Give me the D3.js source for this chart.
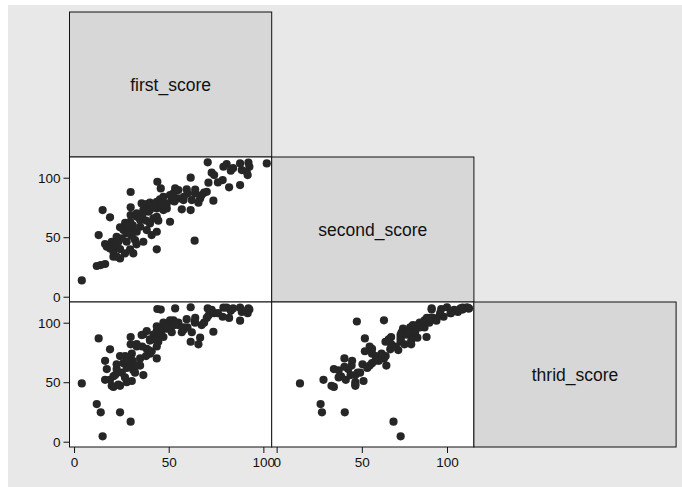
<!DOCTYPE html>
<html>
<head>
<meta charset="utf-8">
<script src="https://cdn.jsdelivr.net/npm/d3@7"></script>
<style>
  body { margin: 0; background: #fff; }
  svg { display: block; font-family: "Liberation Sans", Arial, sans-serif; }
  .tick text { fill: #111; }
  .tick line { stroke: #111; }
</style>
</head>
<body>
<div id="matrix"></div>
<script>
// variable names as shown on the diagonal
var varNames = ["first_score", "second_score", "thrid_score"];

var first_score = [4.1, 12.0, 14.1, 16.4, 20.8, 24.3, 20.8, 31.3, 17.3, 16.4,
  19.0, 21.7, 24.3, 27.8, 29.6, 43.7, 63.7, 24.3, 26.1, 30.5,
  33.1, 38.4, 43.7, 13.0, 22.5, 25.2, 30.5, 36.6, 32.2, 41.0,
  19.0, 29.9, 33.1, 34.9, 29.6, 43.7, 44.5, 50.7, 41.9, 15.1,
  29.9, 36.6, 39.3, 43.7, 47.2, 49.0, 56.9, 61.6, 35.7, 38.4,
  40.1, 43.7, 45.4, 47.2, 50.7, 52.5, 55.1, 57.8, 62.2, 66.6,
  65.7, 73.6, 53.4, 55.1, 59.5, 59.9, 68.7, 70.1, 67.4, 45.8,
  29.9, 81.9, 87.7, 61.6, 71.0, 78.5, 44.0, 72.7, 74.0, 70.6,
  78.9, 80.6, 82.8, 87.7, 92.1, 92.6, 88.6, 91.2, 91.7, 101.8,
  27.8, 23.4, 19.9, 26.9, 22.5, 34.9, 40.1, 49.0, 51.6, 63.9,
  33.1, 40.1, 31.0, 27.0, 36.0, 42.0, 46.0, 53.0, 58.0, 64.0,
  76.0, 84.0, 38.0, 33.0, 28.0];
var second_score = [13.7, 25.8, 26.6, 27.5, 33.6, 32.2, 37.8, 36.4, 42.0, 44.3,
  40.6, 43.4, 40.0, 46.2, 39.8, 39.8, 47.1, 58.3, 56.0, 56.0,
  54.6, 56.0, 54.6, 51.8, 50.4, 49.0, 51.0, 46.2, 47.6, 51.8,
  66.7, 68.6, 67.2, 64.4, 63.0, 67.2, 63.9, 63.0, 65.8, 72.8,
  75.1, 72.8, 71.4, 74.2, 72.8, 74.2, 73.4, 72.8, 78.4, 77.9,
  79.0, 79.8, 81.8, 84.0, 85.4, 86.8, 82.6, 81.2, 81.2, 82.6,
  79.0, 80.7, 91.0, 89.6, 90.2, 86.8, 87.4, 88.2, 85.4, 91.0,
  88.0, 91.9, 93.8, 100.0, 95.8, 98.0, 96.6, 104.2, 102.2, 112.9,
  109.2, 111.5, 105.9, 112.0, 112.6, 109.2, 106.4, 105.0, 102.2, 112.0,
  53.2, 46.2, 46.2, 36.4, 33.6, 58.8, 61.6, 78.4, 81.2, 86.8,
  70.0, 72.8, 60.0, 62.0, 68.0, 76.0, 77.0, 80.0, 84.0, 90.0,
  96.0, 108.0, 64.0, 44.0, 58.0];
var thrid_score = [49, 31.6, 24.7, 52, 46, 47, 55, 60, 61, 68,
  52, 56, 24.7, 50, 63, 70, 101, 72, 66, 74,
  64, 78, 80, 86.8, 65, 58, 51, 56, 58, 76,
  77.6, 16.8, 82, 64, 70, 88, 84, 102, 86, 4.5,
  81.8, 90, 77, 93, 88, 95, 92, 84, 89.6, 93,
  85, 97, 95, 100, 97, 102, 98, 94, 92, 87.4,
  81.8, 92.4, 112, 100, 103, 96, 100, 104, 98, 111,
  88, 104, 101.7, 113, 106, 105, 111.5, 110.7, 108, 112,
  112.6, 112.6, 110, 112.6, 112, 111, 109, 110, 108, NaN,
  62, 48, 47, 54, 61, 70, 74, 96, 92, 100,
  80, 86, 68, 72, 80, 90, 92, 98, 96, 104,
  108, 112, 72, 64, 68];

var tickValues = [0, 50, 100];

var width = 682;
var height = 487;
var padLeft = 69.5;
var padTop = 12;
var cellW = 202.2;
var cellH = 145;
var radius = 4.1;

var columns = [first_score, second_score, thrid_score];

// each variable gets its own range, as the picture shows
var xDomains = [[-2.4, 104.4], [-2.9, 115.8], [-2.9, 115.8]];
var yDomains = [[-4.45, 117.4], [-4.45, 117.4], [-4.45, 117.4]];

var svg = d3.select("#matrix")
  .append("svg")
  .attr("width", width)
  .attr("height", height);

// graph region
svg.append("rect")
  .attr("x", 8)
  .attr("y", 5)
  .attr("width", width - 8)
  .attr("height", height - 5)
  .attr("fill", "#e8e8e8");

function xScale(j) {
  return d3.scaleLinear()
    .domain(xDomains[j])
    .range([padLeft + j * cellW, padLeft + (j + 1) * cellW]);
}

function yScale(i) {
  return d3.scaleLinear()
    .domain(yDomains[i])
    .range([padTop + (i + 1) * cellH, padTop + i * cellH]);
}

for (var i = 0; i < 3; i++) {
  for (var j = 0; j <= i; j++) {
    var cell = svg.append("g").attr("class", "cell");
    cell.append("rect")
      .attr("x", padLeft + j * cellW)
      .attr("y", padTop + i * cellH)
      .attr("width", cellW)
      .attr("height", cellH)
      .attr("fill", i === j ? "#d7d7d7" : "#fff")
      .attr("stroke", "#111")
      .attr("stroke-width", 1);

    if (i === j) {
      cell.append("text")
        .attr("x", padLeft + (j + 0.5) * cellW)
        .attr("y", padTop + (i + 0.5) * cellH)
        .attr("dy", "0.35em")
        .attr("text-anchor", "middle")
        .attr("font-size", 17.5)
        .attr("fill", "#111")
        .text(varNames[i]);
      continue;
    }

    var xs = xScale(j);
    var ys = yScale(i);
    var xv = columns[j];
    var yv = columns[i];
    var pts = d3.range(xv.length).filter(function (k) {
      return !isNaN(xv[k]) && !isNaN(yv[k]);
    });

    cell.selectAll("circle")
      .data(pts)
      .enter()
      .append("circle")
      .attr("cx", function (k) { return xs(xv[k]); })
      .attr("cy", function (k) { return ys(yv[k]); })
      .attr("r", radius)
      .attr("fill", "#262626");
  }
}

// y axes on the left of the first column (rows 2 and 3)
for (var r = 1; r < 3; r++) {
  var yaxis = d3.axisLeft(yScale(r))
    .tickValues(tickValues)
    .tickSize(6)
    .tickPadding(3)
    .tickSizeOuter(0);
  var gy = svg.append("g")
    .attr("transform", "translate(" + padLeft + ",0)")
    .call(yaxis);
  gy.select(".domain").remove();
  gy.selectAll("text").attr("font-size", 13.5).attr("font-family", null);
}

// x axes under the bottom row (columns 1 and 2)
for (var c = 0; c < 2; c++) {
  var xaxis = d3.axisBottom(xScale(c))
    .tickValues(tickValues)
    .tickSize(6)
    .tickPadding(4)
    .tickSizeOuter(0);
  var gx = svg.append("g")
    .attr("transform", "translate(0," + (padTop + 3 * cellH) + ")")
    .call(xaxis);
  gx.select(".domain").remove();
  gx.selectAll("text").attr("font-size", 13.5).attr("font-family", null);
}
</script>
</body>
</html>
